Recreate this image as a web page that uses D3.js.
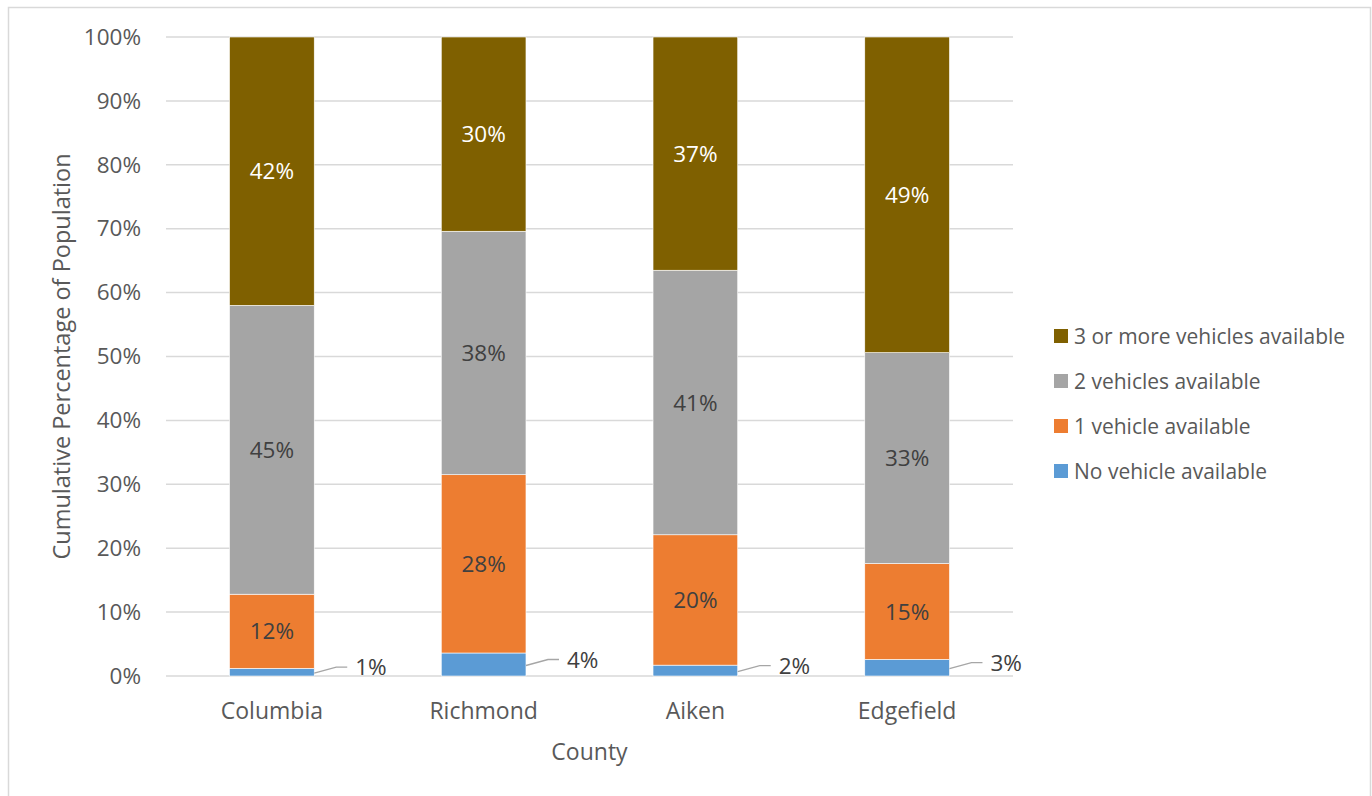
<!DOCTYPE html>
<html>
<head>
<meta charset="utf-8">
<script src="https://cdn.jsdelivr.net/npm/d3@7"></script>
<style>
  html, body { margin: 0; padding: 0; background: #fff; }
  svg { display: block; }
  text { font-family: "Open Sans", "Noto Sans", sans-serif; fill: #595959; }
</style>
</head>
<body>
<svg id="chart" width="1372" height="796"></svg>
<script>
// Vehicle availability by county (share of households, %)
const counties = ["Columbia", "Richmond", "Aiken", "Edgefield"];
const seriesNames = ["No vehicle available", "1 vehicle available", "2 vehicles available", "3 or more vehicles available"];
const noVehicle   = [1.2, 3.6, 1.7, 2.6];
const oneVehicle  = [11.6, 27.9, 20.4, 15.0];
const twoVehicles = [45.2, 38.1, 41.4, 33.0];
const threePlus   = [42.0, 30.4, 36.5, 49.4];
const yTicks = [0, 10, 20, 30, 40, 50, 60, 70, 80, 90, 100];
const colors = ["#5b9bd5", "#ed7d31", "#a5a5a5", "#7f6000"];

const seriesValues = [noVehicle, oneVehicle, twoVehicles, threePlus];
const rows = counties.map((c, i) => {
  const r = { county: c };
  seriesNames.forEach((s, k) => { r[s] = seriesValues[k][i]; });
  return r;
});

const svg = d3.select("#chart");
const W = 1372, H = 796;

// outer chart border
svg.append("rect")
  .attr("x", 8.5).attr("y", 7.5)
  .attr("width", W - 10).attr("height", H)
  .attr("fill", "#fff").attr("stroke", "#d9d9d9").attr("stroke-width", 1.5);

const plot = { left: 166, right: 1013, top: 37, bottom: 676 };

const x = d3.scaleBand()
  .domain(counties)
  .range([plot.left, plot.right])
  .paddingInner(0.6)
  .paddingOuter(0.3);

const y = d3.scaleLinear()
  .domain([0, 100])
  .range([plot.bottom, plot.top]);

// gridlines
svg.append("g")
  .selectAll("line")
  .data(yTicks)
  .join("line")
  .attr("x1", plot.left).attr("x2", plot.right)
  .attr("y1", d => y(d)).attr("y2", d => y(d))
  .attr("stroke", "#d9d9d9").attr("stroke-width", 1.5);

// y axis labels
const yAxis = d3.axisLeft(y).tickValues(yTicks).tickFormat(d => d + "%").tickSize(0).tickPadding(0);
const gy = svg.append("g").attr("transform", `translate(${plot.left - 25},0)`).call(yAxis);
gy.select(".domain").remove();
gy.selectAll("text").attr("font-size", 22.5).attr("fill", "#595959").style("font-family", null);

// x axis labels
const xAxis = d3.axisBottom(x).tickSize(0).tickPadding(0);
const gx = svg.append("g").attr("transform", `translate(0,${plot.bottom + 27})`).call(xAxis);
gx.select(".domain").remove();
gx.selectAll("text").attr("font-size", 23).attr("fill", "#595959").attr("dy", "0.71em").style("font-family", null);

// stacked bars
const stack = d3.stack().keys(seriesNames);
const stacked = stack(rows);

const layers = svg.append("g").selectAll("g")
  .data(stacked)
  .join("g")
  .attr("fill", (d, i) => colors[i]);

layers.selectAll("rect")
  .data(d => d.map(p => ({ p, key: d.key })))
  .join("rect")
  .attr("x", d => x(d.p.data.county))
  .attr("width", x.bandwidth())
  .attr("y", d => y(d.p[1]))
  .attr("height", d => y(d.p[0]) - y(d.p[1]))
  .attr("stroke", "#fff").attr("stroke-width", 0.6);

const fmt = v => Math.round(v) + "%";

// labels inside the bars (series 1..3)
stacked.forEach((layer, k) => {
  if (k === 0) return;
  svg.append("g").selectAll("text")
    .data(layer)
    .join("text")
    .attr("x", d => x(d.data.county) + x.bandwidth() / 2)
    .attr("y", d => (y(d[0]) + y(d[1])) / 2)
    .attr("text-anchor", "middle")
    .attr("dy", "0.36em")
    .attr("font-size", 22.5)
    .style("fill", k === 3 ? "#ffffff" : "#404040")
    .text(d => fmt(d[1] - d[0]));
});

// outside labels with leader lines for the thin "no vehicle" segments
const first = stacked[0];
const callouts = svg.append("g");
first.forEach(d => {
  const xr = x(d.data.county) + x.bandwidth();
  const my = (y(d[0]) + y(d[1])) / 2;
  const ly = my - 5;
  callouts.append("polyline")
    .attr("points", `${xr},${my + 1} ${xr + 22},${ly} ${xr + 33},${ly}`)
    .attr("fill", "none").attr("stroke", "#a6a6a6").attr("stroke-width", 1.3);
  callouts.append("text")
    .attr("x", xr + 41).attr("y", ly)
    .attr("dy", "0.36em")
    .attr("font-size", 22.5)
    .style("fill", "#404040")
    .text(fmt(d[1] - d[0]));
});

// axis titles
svg.append("text")
  .attr("transform", `translate(62,${(plot.top + plot.bottom) / 2}) rotate(-90)`)
  .attr("text-anchor", "middle").attr("dy", "0.36em")
  .attr("font-size", 23.5)
  .text("Cumulative Percentage of Population");

svg.append("text")
  .attr("x", (plot.left + plot.right) / 2).attr("y", 752)
  .attr("text-anchor", "middle").attr("dy", "0.36em")
  .attr("font-size", 23)
  .text("County");

// legend (top series first)
const legendOrder = seriesNames.map((s, i) => ({ s, c: colors[i] })).reverse();
const legend = svg.append("g").attr("transform", "translate(1054,336)");
const li = legend.selectAll("g").data(legendOrder).join("g")
  .attr("transform", (d, i) => `translate(0,${i * 45})`);
li.append("rect").attr("x", 0).attr("y", -7).attr("width", 14).attr("height", 14).attr("fill", d => d.c);
li.append("text").attr("x", 20).attr("dy", "0.36em").attr("font-size", 21).text(d => d.s);
</script>
</body>
</html>
